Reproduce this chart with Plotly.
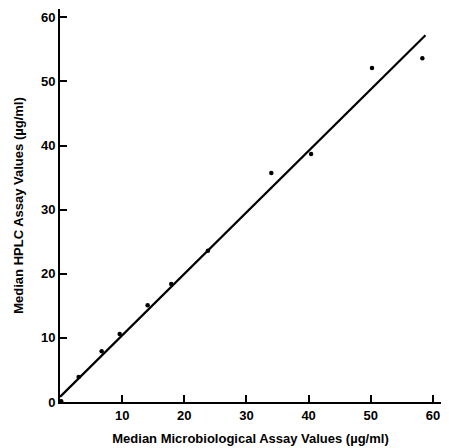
import plotly.graph_objects as go

# Data
micro_x = [0.2, 3.0, 6.7, 9.6, 14.1, 17.9, 23.8, 34.0, 40.4, 50.2, 58.3]
hplc_y = [0.1, 3.9, 7.9, 10.6, 15.1, 18.4, 23.6, 35.7, 38.7, 52.1, 53.6]

fit_x = [0.0, 58.8]
fit_y = [0.8, 57.2]

x_ticks = [10, 20, 30, 40, 50, 60]
y_ticks = [0, 10, 20, 30, 40, 50, 60]

x_title = "Median Microbiological Assay Values (µg/ml)"
y_title = "Median HPLC Assay Values (µg/ml)"

font_family = "Liberation Sans, Arial, sans-serif"

fig = go.Figure()
fig.add_trace(go.Scatter(x=fit_x, y=fit_y, mode="lines",
                         line=dict(color="black", width=2.2), showlegend=False,
                         hoverinfo="skip"))
fig.add_trace(go.Scatter(x=micro_x, y=hplc_y, mode="markers",
                         marker=dict(color="black", size=4.5), showlegend=False))

axis_common = dict(
    showline=True, linecolor="black", linewidth=2,
    ticks="inside", ticklen=7, tickwidth=2, tickcolor="black",
    showgrid=False, zeroline=False, automargin=False,
    tickfont=dict(family=font_family, size=13, color="black", weight="bold"),
    title_font=dict(family=font_family, size=13, color="black", weight="bold"),
)

fig.update_xaxes(range=[0, 61.3], tickvals=x_ticks, ticktext=[str(v) for v in x_ticks],
                 title_text=x_title, title_standoff=12, **axis_common)
fig.update_yaxes(range=[0, 61.3], tickvals=y_ticks, ticktext=[str(v) for v in y_ticks],
                 title_text=y_title, title_standoff=14, **axis_common)

# page body has an 8px margin, so the figure is sized/offset to compensate
fig.update_layout(
    width=433, height=440,
    margin=dict(l=51.5, r=0, t=1, b=45.5),
    plot_bgcolor="white", paper_bgcolor="white",
    font=dict(family=font_family, color="black"),
)

fig.write_html("out.html")
